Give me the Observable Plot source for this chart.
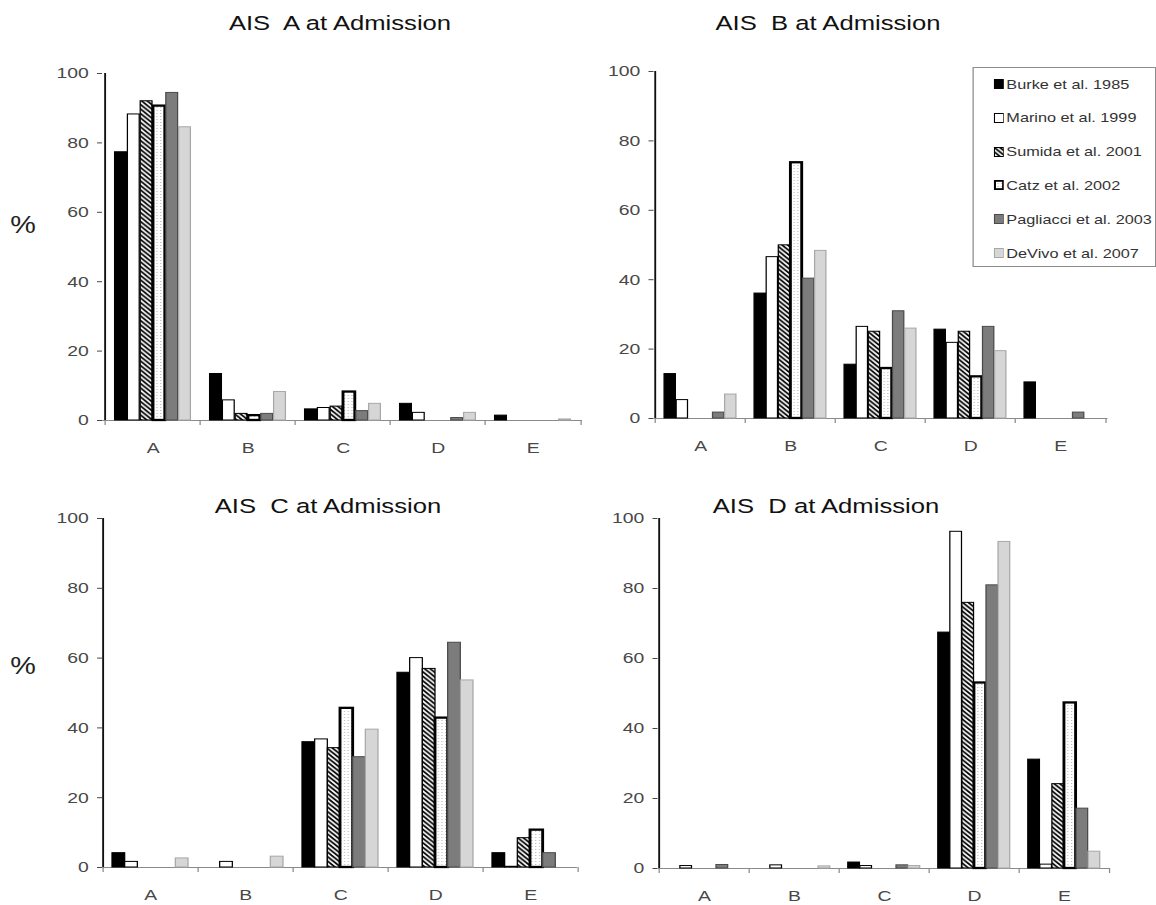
<!DOCTYPE html>
<html>
<head>
<meta charset="utf-8">
<script src="https://cdn.jsdelivr.net/npm/d3@7"></script>
<script src="https://cdn.jsdelivr.net/npm/@observablehq/plot@0.6"></script>
<style>
  body { margin: 0; background: #fff; }
  #stage { position: relative; width: 924.8px; height: 905px; transform: scaleX(1.25); transform-origin: 0 0;
           font-family: "Liberation Sans", Arial, sans-serif; overflow: visible; }
  .abs { position: absolute; }
  .title { font-size: 20.5px; line-height: 20px; color: #111; text-align: center; white-space: pre; width: 300px; }
  .pct { font-size: 23px; line-height: 23px; color: #222; text-align: center; width: 40px; }
  .legend { border: 1px solid #8c8c8c; background: #fff; box-sizing: border-box; }
  .item { position: absolute; font-size: 13px; line-height: 13px; color: #333; white-space: pre; display: flex; align-items: center; }
  .item svg { margin-right: 2px; }
</style>
</head>
<body>
<svg width="0" height="0" style="position:absolute">
  <defs>
    <pattern id="hatch" width="4.5" height="4.5" patternUnits="userSpaceOnUse">
      <rect width="4.5" height="4.5" fill="#fff"/>
      <path d="M-1,-1L5.5,5.5M-1,3.5L1,5.5M3.5,-1L5.5,1" stroke="#000" stroke-width="1.6"/>
    </pattern>
    <pattern id="dots" width="3" height="3" patternUnits="userSpaceOnUse">
      <rect width="3" height="3" fill="#fff"/>
      <rect width="1" height="1" fill="#bdbdbd"/>
    </pattern>
  </defs>
</svg>
<div id="stage"></div>
<script>
// ---------------- data ----------------
const categories = ["A", "B", "C", "D", "E"];
const studies = ["Burke et al. 1985", "Marino et al. 1999", "Sumida et al. 2001",
                 "Catz et al. 2002", "Pagliacci et al. 2003", "DeVivo et al. 2007"];
const titles = ["AIS  A at Admission", "AIS  B at Admission", "AIS  C at Admission", "AIS  D at Admission"];

// values per study (rows, in studies order) across categories A..E
const aisA = [
  [77.3, 13.4, 3.2, 4.8, 1.4],
  [88.2, 5.8, 3.6, 2.2, 0],
  [92.0, 1.9, 4.0, 0, 0],
  [90.6, 1.4, 8.2, 0, 0],
  [94.4, 1.9, 2.7, 0.7, 0],
  [84.5, 8.2, 4.8, 2.2, 0.3]
];
const aisB = [
  [12.8, 36.0, 15.5, 25.6, 10.4],
  [5.3, 46.5, 26.4, 21.8, 0],
  [0, 49.9, 25.0, 25.0, 0],
  [0, 73.7, 14.4, 12.0, 0],
  [1.7, 40.3, 30.9, 26.4, 1.7],
  [6.9, 48.3, 25.9, 19.4, 0]
];
const aisC = [
  [4.1, 0, 35.9, 55.8, 4.1],
  [1.6, 1.6, 36.7, 60.0, 0.2],
  [0, 0, 34.2, 56.9, 8.4],
  [0, 0, 45.6, 42.8, 10.7],
  [0, 0, 31.6, 64.4, 4.1],
  [2.6, 3.1, 39.5, 53.6, 0]
];
const aisD = [
  [0, 0, 1.7, 67.4, 31.1],
  [0.7, 0.9, 0.7, 96.2, 1.1],
  [0, 0, 0, 75.9, 24.1],
  [0, 0, 0, 53.0, 47.3],
  [1.0, 0, 0.9, 80.9, 17.1],
  [0, 0.6, 0.7, 93.3, 4.8]
];

// ---------------- styles & layout ----------------
const S = 1.25; // horizontal stretch of the whole picture
const seriesStyle = [
  {fill: "#000", stroke: "#000", sw: 1},
  {fill: "#fff", stroke: "#000", sw: 1},
  {fill: "url(#hatch)", stroke: "#000", sw: 1},
  {fill: "url(#dots)", stroke: "#000", sw: 2.3},
  {fill: "#7c7c7c", stroke: "#4a4a4a", sw: 1},
  {fill: "#d6d6d6", stroke: "#a8a8a8", sw: 1}
];
const panels = [
  {values: aisA, left: 0, right: 592, x0: 102, x1: 582, y100: 73, y0: 420, tx: 340, ty: 13, pct: 214},
  {values: aisB, left: 592, right: 1156, x0: 653, x1: 1107, y100: 71, y0: 418, tx: 828, ty: 13},
  {values: aisC, left: 0, right: 592, x0: 102, x1: 577, y100: 518, y0: 867, tx: 328, ty: 496, pct: 655},
  {values: aisD, left: 592, right: 1156, x0: 657, x1: 1109, y100: 518, y0: 868, tx: 826, ty: 496}
];

const stage = document.getElementById("stage");

function drawPanel(p, title) {
  const width = (p.right - p.left) / S;
  const top = p.y100 - 14, bottom = p.y0 + 42;
  const height = bottom - top;
  const mL = (p.x0 - p.left) / S, mR = (p.right - p.x1) / S;
  const bw = (p.x1 - p.x0) / S / categories.length;
  const barW = bw / 7.5, inset = (bw - barW) / 2;
  const ppu = (p.y0 - p.y100) / 100;
  const tickLen = 5 / ppu;

  const marks = [
    Plot.ruleY([0], {stroke: "#8a8a8a", strokeWidth: 1}),
    Plot.ruleX(categories, {x: d => d, y1: 0, y2: -tickLen, dx: -bw / 2, stroke: "#8a8a8a"}),
    Plot.ruleX(categories.slice(-1), {x: d => d, y1: 0, y2: -tickLen, dx: bw / 2, stroke: "#8a8a8a"})
  ];
  studies.forEach((name, i) => {
    const st = seriesStyle[i];
    marks.push(Plot.barY(categories, {
      x: d => d,
      y: (d, j) => p.values[i][j],
      filter: (d, j) => p.values[i][j] > 0,
      fill: st.fill, stroke: st.stroke, strokeWidth: st.sw,
      insetLeft: inset, insetRight: inset, dx: (i - 2.5) * barW
    }));
  });
  marks.push(Plot.ruleX(categories.slice(0, 1), {x: d => d, y1: 0, y2: 100, dx: -bw / 2, stroke: "#111", strokeWidth: 1.5}));

  const chart = Plot.plot({
    width, height,
    marginLeft: mL, marginRight: mR, marginTop: p.y100 - top, marginBottom: bottom - p.y0,
    style: {fontFamily: "'Liberation Sans', Arial, sans-serif", fontSize: "15.5px", color: "#484848", background: "none", overflow: "visible"},
    x: {type: "band", domain: categories, padding: 0, tickSize: 0, tickPadding: 21, label: null},
    y: {domain: [0, 100], ticks: 5, tickSize: 4, tickPadding: 7, label: null},
    marks
  });
  chart.classList.add("abs");
  chart.style.left = (p.left / S) + "px";
  chart.style.top = top + "px";
  stage.appendChild(chart);

  const t = document.createElement("div");
  t.className = "abs title";
  t.textContent = title;
  t.style.left = (p.tx / S - 150) + "px";
  t.style.top = p.ty + "px";
  stage.appendChild(t);

  if (p.pct !== undefined) {
    const pc = document.createElement("div");
    pc.className = "abs pct";
    pc.textContent = "%";
    pc.style.left = (23 / S - 20) + "px";
    pc.style.top = p.pct + "px";
    stage.appendChild(pc);
  }
}

panels.forEach((p, k) => drawPanel(p, titles[k]));

// legend
const lg = document.createElement("div");
lg.className = "abs legend";
lg.style.left = (973 / S) + "px";
lg.style.top = "67px";
lg.style.width = ((1156 - 973) / S) + "px";
lg.style.height = "200px";
stage.appendChild(lg);
studies.forEach((name, i) => {
  const st = seriesStyle[i];
  const it = document.createElement("div");
  it.className = "item";
  it.style.left = ((992 - 973) / S) + "px";
  it.style.top = (16 + i * 33.8 - 6.5) + "px";
  const sw = st.sw > 1.5 ? 1.8 : 1;
  it.innerHTML = `<svg width="8.5" height="10" viewBox="0 0 8.5 10"><rect x="${sw/2}" y="${sw/2}" width="${8.5 - sw}" height="${10 - sw}" fill="${st.fill}" stroke="${st.stroke}" stroke-width="${sw}"/></svg>`;
  const span = document.createElement("span");
  span.textContent = name;
  it.appendChild(span);
  lg.appendChild(it);
});
</script>
</body>
</html>
